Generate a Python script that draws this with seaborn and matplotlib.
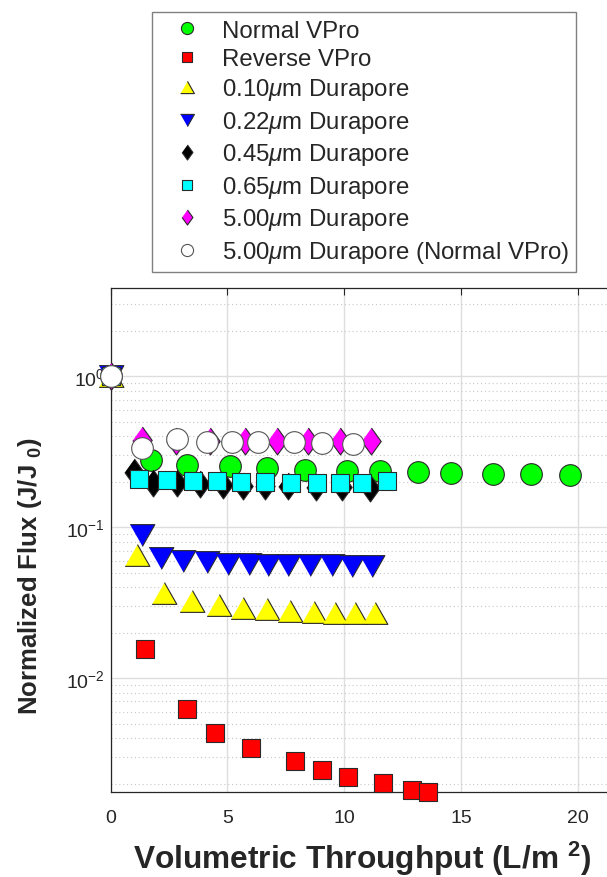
import numpy as np
import pandas as pd
import matplotlib
matplotlib.use("Agg")
import matplotlib.pyplot as plt
import seaborn as sns
from matplotlib.ticker import LogLocator, NullFormatter, FixedLocator

# ---- data: volumetric throughput (L/m^2) and normalized flux J/J0 ----
normal_vpro_x = [0, 1.73, 3.27, 5.11, 6.69, 8.32, 10.11, 11.53, 13.16, 14.57, 16.37, 17.99, 19.66]
normal_vpro_y = [1.0, 0.280, 0.259, 0.256, 0.246, 0.241, 0.237, 0.235, 0.231, 0.229, 0.225, 0.224, 0.222]

reverse_vpro_x = [0, 1.47, 3.25, 4.46, 6.02, 7.88, 9.06, 10.16, 11.67, 12.89, 13.60]
reverse_vpro_y = [1.0, 0.0156, 0.00627, 0.00432, 0.00345, 0.00284, 0.00247, 0.00221, 0.00202, 0.00181, 0.00175]

dura_010_x = [0, 1.11, 2.28, 3.47, 4.64, 5.66, 6.67, 7.68, 8.72, 9.59, 10.47, 11.30]
dura_010_y = [1.0, 0.0659, 0.0366, 0.0323, 0.0304, 0.0293, 0.0287, 0.0280, 0.0275, 0.0272, 0.0272, 0.0268]

dura_022_x = [0, 1.33, 2.15, 3.11, 4.11, 5.03, 5.92, 6.72, 7.60, 8.53, 9.49, 10.32, 11.20]
dura_022_y = [1.0, 0.0882, 0.0629, 0.0601, 0.0589, 0.0574, 0.0567, 0.0564, 0.0563, 0.0560, 0.0560, 0.0557, 0.0556]

dura_045_x = [0, 0.99, 1.82, 2.85, 3.82, 4.82, 5.68, 6.61, 7.60, 8.81, 9.89, 11.10]
dura_045_y = [1.0, 0.231, 0.1965, 0.1965, 0.1935, 0.1906, 0.1877, 0.1863, 0.1863, 0.1849, 0.1849, 0.182]

dura_065_x = [0, 1.22, 2.40, 3.54, 4.54, 5.57, 6.61, 7.71, 8.84, 9.82, 10.75, 11.82]
dura_065_y = [1.0, 0.209, 0.206, 0.2017, 0.2017, 0.2004, 0.1987, 0.1965, 0.1956, 0.1956, 0.1956, 0.2035]

dura_500_x = [0, 1.33, 2.80, 4.25, 5.75, 7.12, 8.46, 9.82, 11.13]
dura_500_y = [1.0, 0.378, 0.372, 0.375, 0.375, 0.375, 0.375, 0.375, 0.375]

dura_500_nv_x = [0, 1.35, 2.85, 4.12, 5.19, 6.32, 7.83, 9.05, 10.39]
dura_500_nv_y = [1.0, 0.335, 0.385, 0.365, 0.367, 0.365, 0.365, 0.362, 0.356]

labels = [
    "Normal VPro",
    "Reverse VPro",
    r"0.10$\mu$m Durapore",
    r"0.22$\mu$m Durapore",
    r"0.45$\mu$m Durapore",
    r"0.65$\mu$m Durapore",
    r"5.00$\mu$m Durapore",
    r"5.00$\mu$m Durapore (Normal VPro)",
]
x_ticks = [0, 5, 10, 15, 20]

# ---- marker shapes ----
tri_up = [(0, 0.88), (1, -0.88), (-1, -0.88)]
tri_down = [(0, -0.88), (1, 0.88), (-1, 0.88)]
diamond = [(0, 1), (0.72, 0), (0, -1), (-0.72, 0)]

series = [
    (normal_vpro_x, normal_vpro_y, "o", "#00ff00", 15.6),
    (reverse_vpro_x, reverse_vpro_y, "s", "#ff0000", 13.2),
    (dura_010_x, dura_010_y, tri_up, "#ffff00", 17.8),
    (dura_022_x, dura_022_y, tri_down, "#0000ff", 17.8),
    (dura_045_x, dura_045_y, diamond, "#000000", 19.4),
    (dura_065_x, dura_065_y, "s", "#00ffff", 13.2),
    (dura_500_x, dura_500_y, diamond, "#ff00ff", 19.4),
    (dura_500_nv_x, dura_500_nv_y, "o", "#ffffff", 15.6),
]

sns.set_theme(style="white")
plt.rcParams["font.family"] = ["Liberation Sans", "DejaVu Sans"]
plt.rcParams["mathtext.fontset"] = "custom"
plt.rcParams["mathtext.rm"] = "Liberation Sans"
plt.rcParams["mathtext.it"] = "Liberation Sans:italic"
plt.rcParams["mathtext.bf"] = "Liberation Sans:bold"

W, H = 607, 878
fig = plt.figure(figsize=(W / 100, H / 100), dpi=100)
ax_l, ax_r, ax_t, ax_b = 110.7, 624.6, 289.3, 793.3
ax = fig.add_axes([ax_l / W, 1 - ax_b / H, (ax_r - ax_l) / W, (ax_b - ax_t) / H])

for (xs, ys, mk, col, ms), lab in zip(series, labels):
    df = pd.DataFrame({"throughput": xs, "flux": ys})
    edge = "#555555" if col == "#ffffff" else "#2a2a2a"
    sns.scatterplot(data=df, x="throughput", y="flux", marker=mk, s=ms ** 2,
                    color=col, edgecolor=edge, linewidth=0.8, label=lab,
                    clip_on=False, zorder=3, ax=ax, legend=False)

ax.set_yscale("log")
ax.set_xlim(0, 22)
ax.set_ylim(0.00175, 3.83)
ax.xaxis.set_major_locator(FixedLocator(x_ticks))
ax.yaxis.set_major_locator(LogLocator(base=10))
ax.yaxis.set_minor_locator(LogLocator(base=10, subs=np.arange(2, 10)))
ax.yaxis.set_minor_formatter(NullFormatter())

ax.set_axisbelow(True)
ax.grid(which="major", axis="both", color="#dedede", linewidth=1.0, linestyle="-")
ax.yaxis.grid(which="minor", color="#c8c8c8", linewidth=0.8, linestyle=(0, (1, 2.5)))

ax.tick_params(which="both", direction="in", top=True, right=True,
               colors="#262626", labelsize=14)
ax.tick_params(which="major", length=5, width=0.8)
ax.tick_params(which="minor", length=3, width=0.6)
ax.tick_params(axis="x", pad=12)
ax.tick_params(axis="y", pad=4)
for sp in ax.spines.values():
    sp.set_color("#262626")
    sp.set_linewidth(0.9)

ax.set_xlabel("")
ax.set_ylabel("")

fig.text(362.5 / W, 1 - 869.5 / H, r"Volumetric Throughput (L/m $^{\mathbf{2}}$)",
         ha="center", va="baseline", fontsize=22.8, fontweight="bold", color="#262626")
fig.text(37.5 / W, 1 - 576 / H, r"Normalized Flux (J/J $_{\mathbf{0}}$)",
         ha="center", va="baseline", rotation=90, rotation_mode="anchor",
         fontsize=18.5, fontweight="bold", color="#262626")

handles, labs = ax.get_legend_handles_labels()
leg = fig.legend(handles, labs, loc="upper left",
                 bbox_to_anchor=(151.7 / W, 1 - 13.3 / H),
                 fontsize=17.3, markerscale=0.56, scatterpoints=1,
                 scatteryoffsets=[0.5], handlelength=2.35, handletextpad=0.28,
                 borderpad=0.3, labelspacing=0.27, borderaxespad=0,
                 fancybox=False, framealpha=1, edgecolor="#808080")
leg.get_frame().set_linewidth(1.0)

fig.savefig("out.png", dpi=100)
